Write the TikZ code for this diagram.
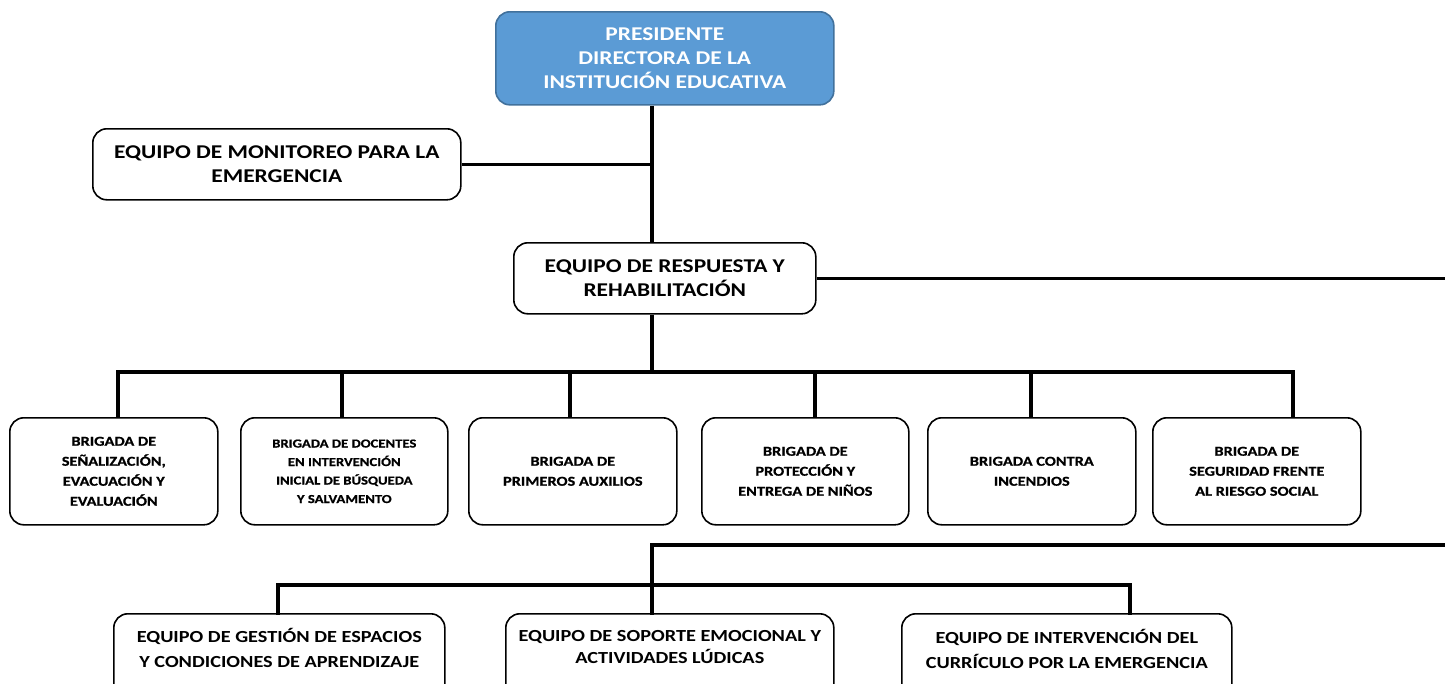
\documentclass[tikz,border=0pt]{standalone}
\usepackage{fontspec}
\setmainfont{Carlito}[FakeStretch=1.2]
\newfontfamily\brfont{Carlito}[FakeStretch=1.2, BoldFeatures={FakeBold=0.8}]
\definecolor{presfill}{HTML}{5B9BD5}
\definecolor{presdraw}{HTML}{41719C}
\begin{document}
\begin{tikzpicture}[x=1pt,y=-1pt,
  box/.style={draw=black, line width=1.6pt, rounded corners=14pt, fill=white,
    align=center, inner sep=0pt, anchor=north west, font=\bfseries},
  conn/.style={line width=3.5pt, line cap=rect},
  bigtxt/.style={font=\bfseries\fontsize{19.5}{24.3}\selectfont},
  brtxt/.style={font=\brfont\bfseries\fontsize{13.6}{20}\selectfont},
  brtxtS/.style={font=\brfont\bfseries\fontsize{12.2}{18.5}\selectfont},
  lowtxt/.style={font=\bfseries\fontsize{16.9}{25}\selectfont, align=center}]
\useasboundingbox (0,0) rectangle (1445,683);
\clip (0,0) rectangle (1445,683);
\fill[white] (0,0) rectangle (1445,683);

% top boxes
\node[box, bigtxt, fill=presfill, draw=presdraw, text=white, minimum width=338pt, minimum height=93pt] (pres) at (495,11)
  {PRESIDENTE\\DIRECTORA DE LA\\INSTITUCIÓN EDUCATIVA};
\node[box, bigtxt, minimum width=368pt, minimum height=71pt] (mon) at (92,128)
  {EQUIPO DE MONITOREO PARA LA\\EMERGENCIA};
\node[box, bigtxt, minimum width=302pt, minimum height=71pt] (resp) at (513,242)
  {EQUIPO DE RESPUESTA Y\\REHABILITACIÓN};

% brigades
\node[box, brtxt, minimum width=208pt, minimum height=107pt] (b1) at (9,417)
  {BRIGADA DE\\SEÑALIZACIÓN,\\EVACUACIÓN Y\\EVALUACIÓN};
\node[box, brtxtS, minimum width=207pt, minimum height=107pt] (b2) at (240,417)
  {BRIGADA DE DOCENTES\\EN INTERVENCIÓN\\INICIAL DE BÚSQUEDA\\Y SALVAMENTO};
\node[box, brtxt, minimum width=208pt, minimum height=107pt] (b3) at (468,417)
  {BRIGADA DE\\PRIMEROS AUXILIOS};
\node[box, brtxt, minimum width=207pt, minimum height=107pt] (b4) at (701,417)
  {BRIGADA DE\\PROTECCIÓN Y\\ENTREGA DE NIÑOS};
\node[box, brtxt, minimum width=208pt, minimum height=107pt] (b5) at (927,417)
  {BRIGADA CONTRA\\INCENDIOS};
\node[box, brtxt, minimum width=208pt, minimum height=107pt] (b6) at (1152,417)
  {BRIGADA DE\\SEGURIDAD FRENTE\\AL RIESGO SOCIAL};

% bottom boxes (cut by the lower edge)
\node[box, minimum width=331pt, minimum height=110pt] (e1) at (113,613) {};
\node[box, minimum width=328pt, minimum height=110pt] (e2) at (505,613) {};
\node[box, minimum width=330pt, minimum height=110pt] (e3) at (901,613) {};
\node[lowtxt] (t1) at ([yshift=-35pt]e1.north) {EQUIPO DE GESTIÓN DE ESPACIOS\\Y CONDICIONES DE APRENDIZAJE};
\node[lowtxt, font=\bfseries\fontsize{16.9}{22.5}\selectfont] (t2) at ([yshift=-34pt]e2.north) {EQUIPO DE SOPORTE EMOCIONAL Y\\ACTIVIDADES LÚDICAS};
\node[lowtxt] (t3) at ([yshift=-36pt]e3.north) {EQUIPO DE INTERVENCIÓN DEL\\CURRÍCULO POR LA EMERGENCIA};

% coordinates
\coordinate (sx) at (652,0);
\coordinate (rA) at (1445,277);
\coordinate (d1) at (118,372);
\coordinate (d2) at (342,372);
\coordinate (d3) at (570,372);
\coordinate (d4) at (815,372);
\coordinate (d5) at (1031,372);
\coordinate (d6) at (1293,372);
\coordinate (L0) at (652,545);
\coordinate (Lr) at (1445,545);
\coordinate (f1) at (278,585);
\coordinate (f3) at (1130,585);

% connectors
\draw[conn, line cap=butt] (pres.south -| sx) -- (resp.north -| sx);
\draw[conn, line cap=butt] (mon.east) -- (mon.east -| sx);
\draw[conn, line cap=butt] (resp.east) -- (resp.east -| rA);
\draw[conn, line cap=butt] (resp.south -| sx) -- (d1 -| sx);
\draw[conn] (d1) -- (d6);
\foreach \i in {1,...,6} {\draw[conn, line cap=butt] (d\i) -- (d\i |- b\i.north);}
\draw[conn] (Lr) -- (L0) -- (L0 |- e2.north);
\draw[conn] (f1 |- e1.north) -- (f1) -- (f3) -- (f3 |- e3.north);
\end{tikzpicture}
\end{document}
